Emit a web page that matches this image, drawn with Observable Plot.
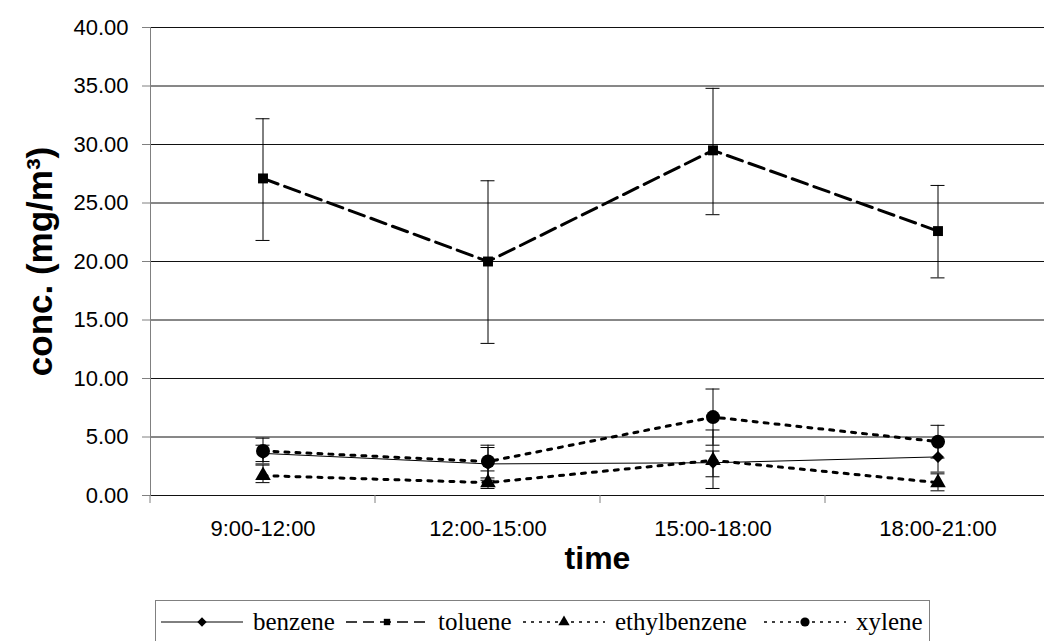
<!DOCTYPE html>
<html><head><meta charset="utf-8">
<script src="https://cdn.jsdelivr.net/npm/d3@7"></script>
<script src="https://cdn.jsdelivr.net/npm/@observablehq/plot@0.6"></script>
<style>
body{margin:0;background:#fff;}
#chart{position:relative;width:1044px;height:641px;overflow:hidden;background:#fff;}
#legend{position:absolute;left:155px;top:600px;width:775px;height:60px;border:1px solid #808080;box-sizing:border-box;font-family:"Liberation Serif","Times New Roman",serif;font-size:25px;color:#000;}
#legend .item{position:absolute;top:6px;display:flex;align-items:center;height:30px;}
#legend svg{display:block;}
</style></head><body><div id="chart"></div>
<script>
const categories = ["9:00-12:00", "12:00-15:00", "15:00-18:00", "18:00-21:00"];
const yTicks = [0, 5, 10, 15, 20, 25, 30, 35, 40];

const seriesNames = ["benzene", "toluene", "ethylbenzene", "xylene"];
const benzene      = [3.6, 2.7, 2.8, 3.3];
const benzeneLow   = [2.9, 1.3, 0.6, 2.0];
const benzeneHigh  = [4.3, 4.1, 5.6, 4.6];
const toluene      = [27.1, 20.0, 29.5, 22.6];
const tolueneLow   = [21.8, 13.0, 24.0, 18.6];
const tolueneHigh  = [32.2, 26.9, 34.8, 26.5];
const ethylbenzene     = [1.7, 1.1, 3.0, 1.1];
const ethylbenzeneLow  = [1.1, 0.6, 1.6, 0.4];
const ethylbenzeneHigh = [2.6, 2.1, 3.8, 1.85];
const xylene      = [3.8, 2.9, 6.7, 4.6];
const xyleneLow   = [2.7, 1.5, 4.3, 3.2];
const xyleneHigh  = [4.9, 4.3, 9.1, 6.0];

const series = [
  {name: seriesNames[0], values: benzene, low: benzeneLow, high: benzeneHigh, symbol: "diamond2", r: 5.4, width: 1, dash: null},
  {name: seriesNames[1], values: toluene, low: tolueneLow, high: tolueneHigh, symbol: "square", r: 5.6, width: 3, dash: "16,7"},
  {name: seriesNames[2], values: ethylbenzene, low: ethylbenzeneLow, high: ethylbenzeneHigh, symbol: "triangle", r: 5.8, width: 3, dash: "4,7"},
  {name: seriesNames[3], values: xylene, low: xyleneLow, high: xyleneHigh, symbol: "circle", r: 7, width: 3, dash: "4,7"}
];

const marks = [
  Plot.ruleY(yTicks, {stroke: "#111", strokeWidth: 1}),
  Plot.frame({anchor: "left", stroke: "#808080"}),
  Plot.axisY({ticks: yTicks, tickSize: 8, tickPadding: 14, tickFormat: d => d.toFixed(2), fontSize: 22, label: null, stroke: "#808080"}),
  Plot.axisX({tickSize: 0, tickPadding: 25, fontSize: 22, label: null}),
  Plot.text(["conc. (mg/m³)"], {frameAnchor: "left", dx: -110, rotate: -90, textAnchor: "middle", fontSize: 35, fontWeight: "bold"}),
  Plot.text(["time"], {frameAnchor: "bottom", dy: 73, fontSize: 32, fontWeight: "bold"})
];

for (const s of series) {
  const rows = categories.map((c, i) => ({time: c, value: s.values[i], low: s.low[i], high: s.high[i]}));
  marks.push(Plot.ruleX(rows, {x: "time", y1: "low", y2: "high", stroke: "#000", strokeWidth: 1}));
  marks.push(Plot.tickY(rows, {x: "time", y: "low", stroke: "#000", strokeWidth: 1, insetLeft: 105.5, insetRight: 105.5}));
  marks.push(Plot.tickY(rows, {x: "time", y: "high", stroke: "#000", strokeWidth: 1, insetLeft: 105.5, insetRight: 105.5}));
}
for (const s of series) {
  const rows = categories.map((c, i) => ({time: c, value: s.values[i]}));
  marks.push(Plot.line(rows, {x: "time", y: "value", stroke: "#000", strokeWidth: s.width, strokeDasharray: s.dash}));
  marks.push(Plot.dot(rows, {x: "time", y: "value", symbol: () => s.symbol, r: s.r, fill: "#000", stroke: "none"}));
}

const plot = Plot.plot({
  width: 1044,
  height: 585,
  marginLeft: 150,
  marginRight: 0,
  marginTop: 27,
  marginBottom: 90,
  style: {fontFamily: "'Liberation Sans', Arial, sans-serif", color: "#000", background: "#fff", overflow: "visible"},
  x: {type: "band", domain: categories, range: [150, 1050], padding: 0},
  y: {domain: [0, 40]},
  symbol: {type: "identity"},
  marks
});

// boundary ticks below the category axis, placed with Plot's own scales
const xs = plot.scale("x"), ys = plot.scale("y");
const y0 = ys.apply(0);
const bounds = categories.map(c => xs.apply(c)).concat([xs.apply(categories[categories.length - 1]) + xs.bandwidth]);
d3.select(plot).append("g").selectAll("line").data(bounds).join("line")
  .attr("x1", d => d).attr("x2", d => d).attr("y1", y0).attr("y2", y0 + 8)
  .attr("stroke", "#808080");

const chart = document.getElementById("chart");
chart.appendChild(plot);

// legend
const legend = document.createElement("div");
legend.id = "legend";
chart.appendChild(legend);
const itemLeft = [4, 189, 366, 607];
const symbolTypes = {
  diamond2: d3.symbolDiamond2 || d3.symbolDiamond,
  square: d3.symbolSquare,
  triangle: d3.symbolTriangle,
  circle: d3.symbolCircle
};
const legendSize = {diamond2: 4.2, square: 3.6, triangle: 4.2, circle: 4.6};
series.forEach((s, i) => {
  const item = document.createElement("div");
  item.className = "item";
  item.style.left = itemLeft[i] + "px";
  const w = 84;
  const svg = d3.create("svg").attr("width", w).attr("height", 30);
  svg.append("line").attr("x1", 1).attr("x2", w - 1).attr("y1", 15).attr("y2", 15)
    .attr("stroke", "#000").attr("stroke-width", s.dash ? 1.6 : 1)
    .attr("stroke-dasharray", s.dash ? (s.dash === "16,7" ? "11,6" : "3,5") : null);
  const rr = legendSize[s.symbol];
  const sym = d3.symbol(symbolTypes[s.symbol], Math.PI * rr * rr)();
  svg.append("path").attr("d", sym).attr("transform", `translate(${w / 2},15)`).attr("fill", "#000");
  item.appendChild(svg.node());
  const t = document.createElement("span");
  t.textContent = s.name;
  t.style.marginLeft = "9px";
  item.appendChild(t);
  legend.appendChild(item);
});
</script></body></html>
